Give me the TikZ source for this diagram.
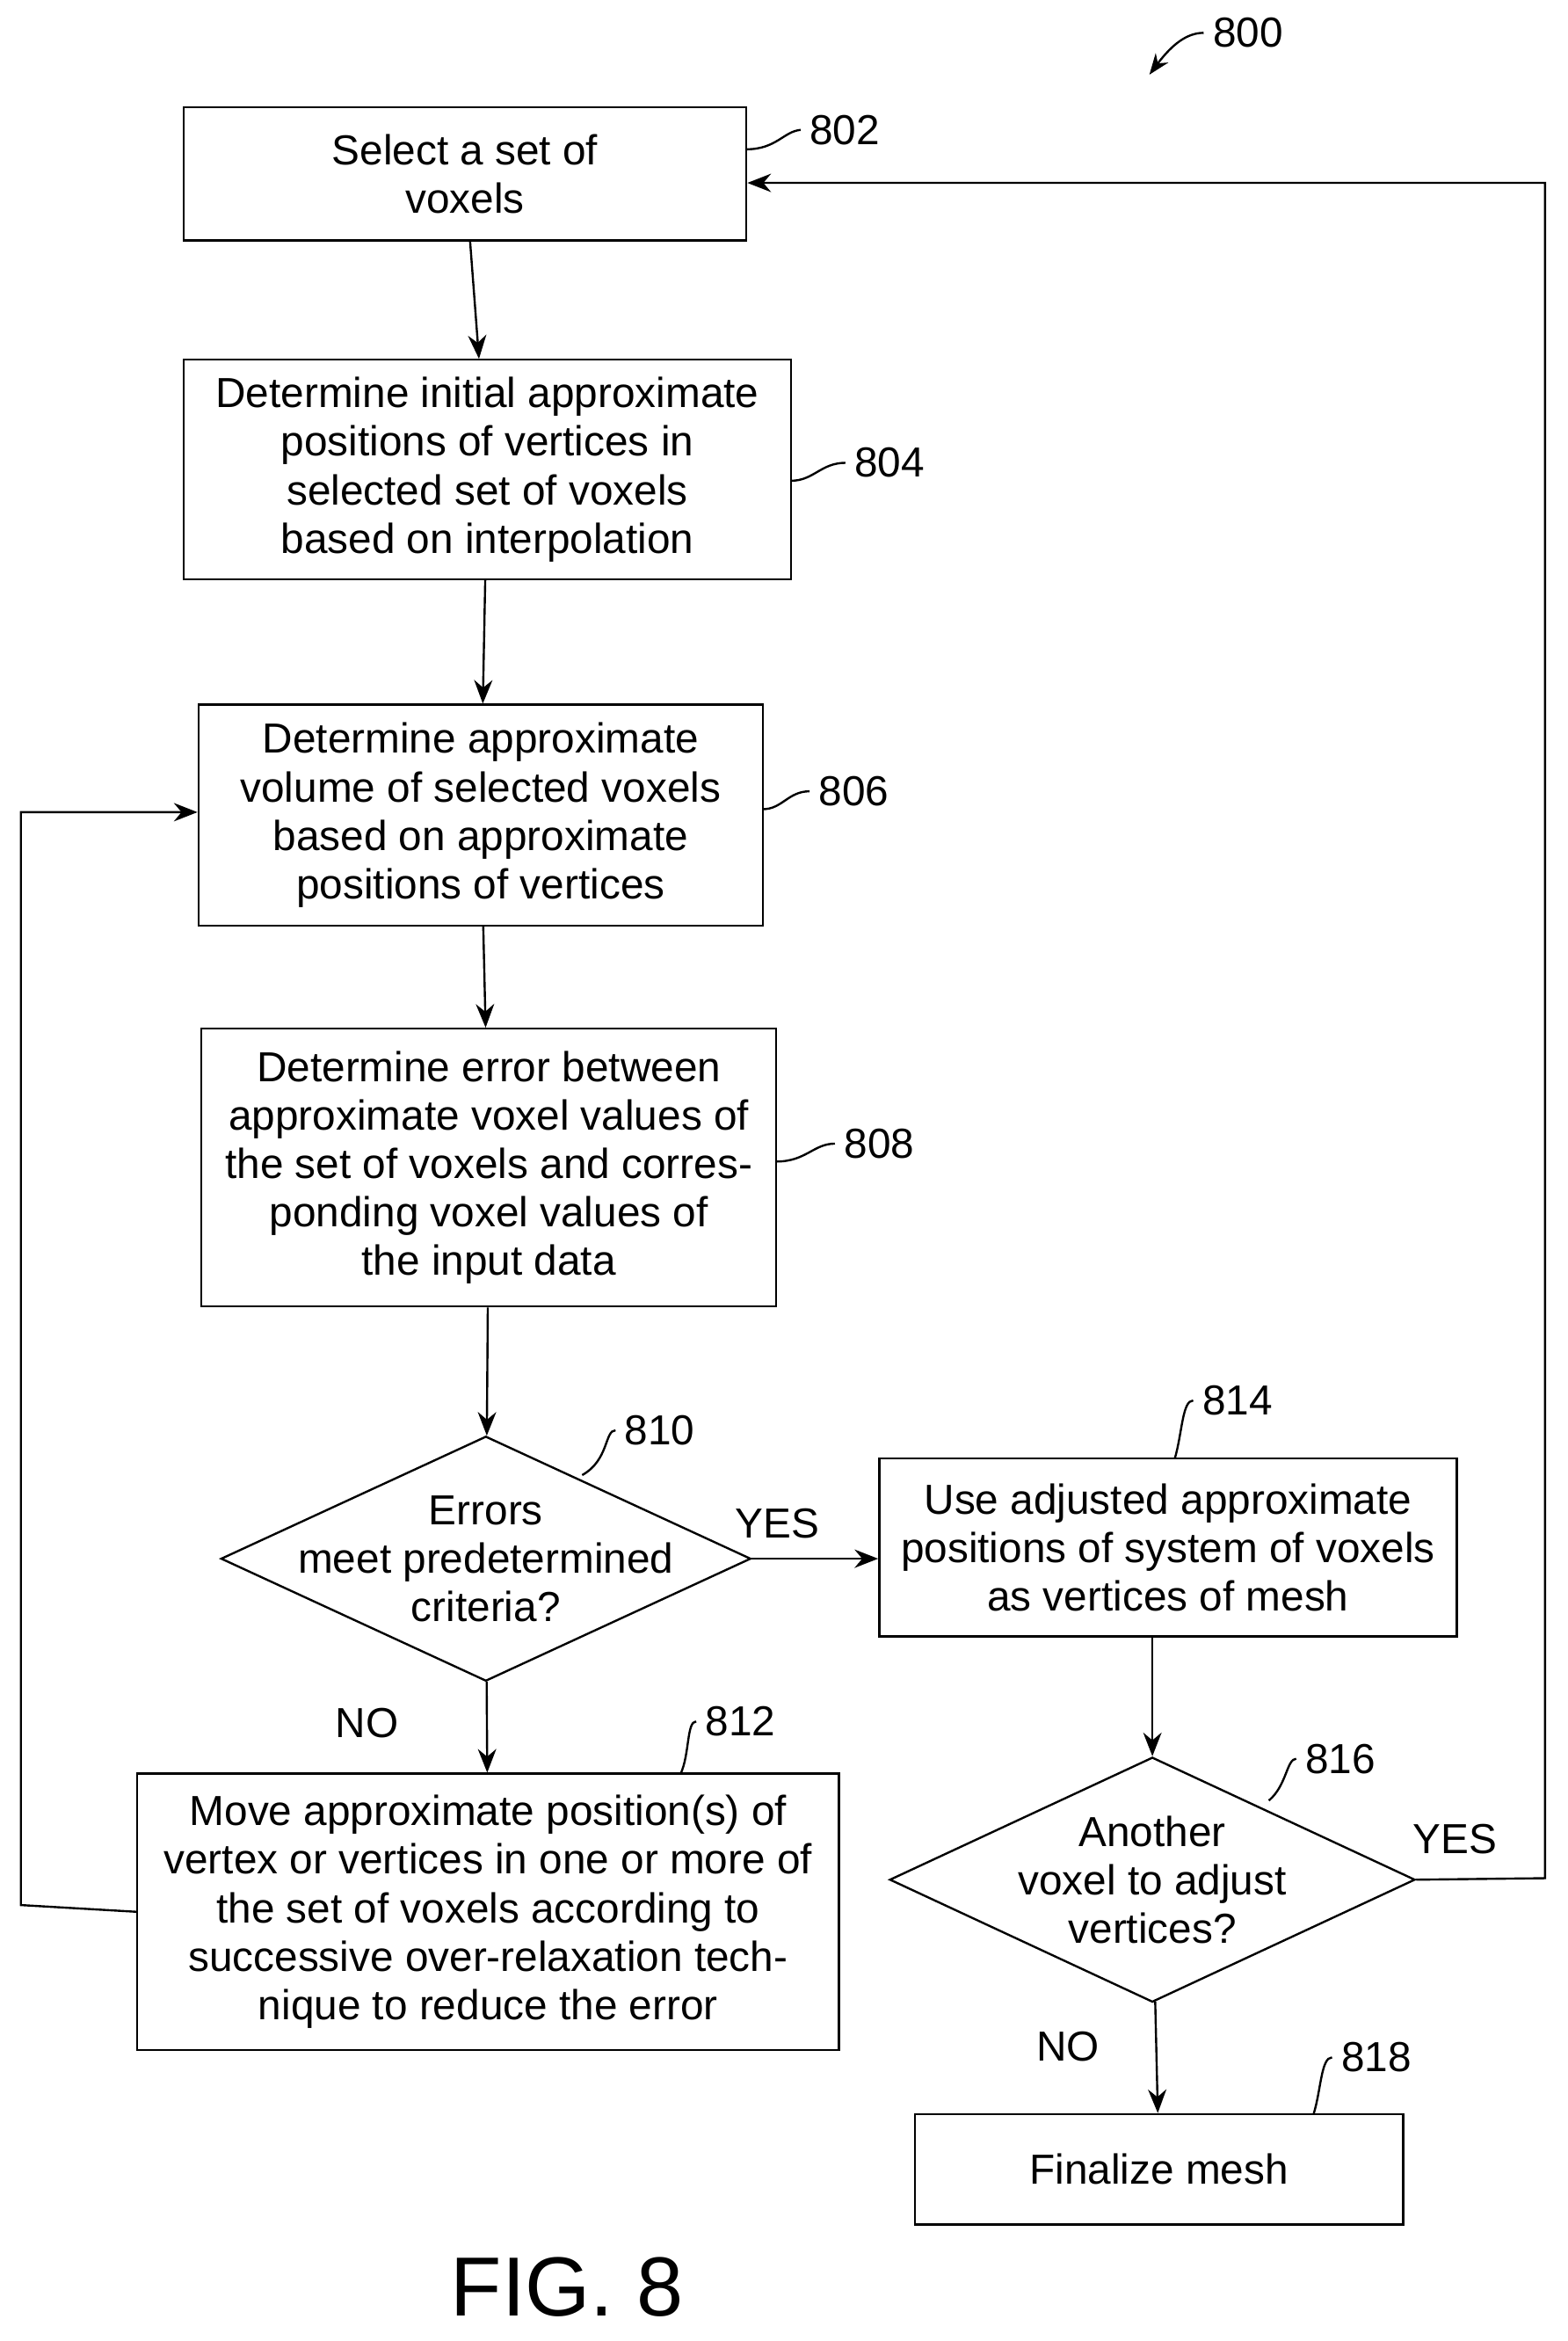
\documentclass[tikz,border=0pt]{standalone}
\usepackage{fontspec}
\setmainfont{Liberation Sans}
\usetikzlibrary{positioning, calc, shapes.geometric, arrows.meta}
\tikzset{
  Box/.style={draw, thick, align=center, inner sep=0pt, font=\fontsize{16}{18.5}\selectfont},
  Dia/.style={draw, thick, diamond, inner sep=0pt},
  Txt/.style={align=center, font=\fontsize{16}{18.5}\selectfont},
  Arrow/.style={thick, -{Stealth[length=9pt, width=7pt]}},
  Ref/.style={font=\fontsize{16}{18}\selectfont},
}
\begin{document}
\begin{tikzpicture}[x=0.02cm, y=-0.02cm]
    \useasboundingbox (0,0) rectangle (1050,1568);
    \node [Box, minimum width=377*0.02cm, minimum height=89*0.02cm](802) at (311.5,116.5){Select a set of\\voxels};
    \node [Box, minimum width=407*0.02cm, minimum height=147*0.02cm](804) at (326.5,314.5){Determine initial approximate\\positions of vertices in\\selected set of voxels\\based on interpolation};
    \node [Box, minimum width=378*0.02cm, minimum height=148*0.02cm](806) at (322,546){Determine approximate\\volume of selected voxels\\based on approximate\\positions of vertices};
    \node [Box, minimum width=385*0.02cm, minimum height=186*0.02cm](808) at (327.5,782){Determine error between\\approximate voxel values of\\the set of voxels and corres-\\ponding voxel values of\\the input data};
    \node [Dia, minimum width=355*0.02cm, minimum height=164*0.02cm](810) at (325.5,1044){};
    \node [Txt] at (810) {Errors\\meet predetermined\\criteria?};
    \node [Box, minimum width=387*0.02cm, minimum height=119*0.02cm](814) at (782.5,1036.5){Use adjusted approximate\\positions of system of voxels\\as vertices of mesh};
    \node [Box, minimum width=470*0.02cm, minimum height=185*0.02cm](812) at (327,1280.5){Move approximate position(s) of\\vertex or vertices in one or more of\\the set of voxels according to\\successive over-relaxation tech-\\nique to reduce the error};
    \node [Dia, minimum width=352*0.02cm, minimum height=164*0.02cm](816) at (772,1259){};
    \node [Txt] at (816) {Another\\voxel to adjust\\vertices?};
    \node [Box, minimum width=327*0.02cm, minimum height=74*0.02cm](818) at (776.5,1453){Finalize mesh};

    % connectors
    \draw [Arrow] (802) -- (804);
    \draw [Arrow] (804) -- (806);
    \draw [Arrow] (806) -- (808);
    \draw [Arrow] (808) -- (810);
    \draw [Arrow] (810.east) -- (814.west |- 810.east) node [Txt, pos=0.2, above=4pt] {YES};
    \draw [Arrow] (810) -- (812) node [Txt, pos=0.45, left=30pt] {NO};
    \draw [Arrow] (814.south -| 816.north) -- (816);
    \draw [Arrow] (816) -- (818) node [Txt, pos=0.4, left=18pt] {NO};
    \coordinate (loopR) at (1035,1258);
    \coordinate (loopL) at (14,1276);
    \draw [Arrow] (816.east) -- (loopR) node [Txt, pos=0.3, above=6pt] {YES} |- ($(802.east)+(0,6)$);
    \draw [Arrow] (812.west) -- (loopL) |- ($(806.west)+(0,-2)$);

    % reference numerals
    \node [Ref](l800) at (836,22){800};
    \draw [thick, -{Stealth[length=8pt]}] (l800.west) .. controls (795,22) and (785,30) .. (770,50);
    \node [Ref](l802) at (566,87){802};
    \node [Ref](l804) at (596,310){804};
    \node [Ref](l806) at (572,530){806};
    \node [Ref](l808) at (589,766){808};
    \node [Ref](l810) at (442,958){810};
    \node [Ref](l814) at (829,938){814};
    \node [Ref](l812) at (496,1153){812};
    \node [Ref](l816) at (898,1178){816};
    \node [Ref](l818) at (922,1378){818};
    \draw [thick] (l802.west) .. controls (525,88) and (520,100) .. (500,100);
    \draw [thick] (l804.west) .. controls (550,310) and (545,322) .. (530,322);
    \draw [thick] (l806.west) .. controls (528,530) and (524,542) .. (511,542);
    \draw [thick] (l808.west) .. controls (545,766) and (540,778) .. (520,778);
    \draw [thick] (l810.west) .. controls (405,958) and (408,978) .. (390,988);
    \draw [thick] (l814.west) .. controls (792,938) and (792,960) .. (787,977);
    \draw [thick] (l812.west) .. controls (460,1153) and (462,1175) .. (456,1188);
    \draw [thick] (l816.west) .. controls (862,1178) and (862,1196) .. (850,1206);
    \draw [thick] (l818.west) .. controls (885,1378) and (885,1400) .. (880,1416);

    \node [font=\fontsize{32}{34}\selectfont](fig) at (380,1532){FIG. 8};
\end{tikzpicture}
\end{document}
